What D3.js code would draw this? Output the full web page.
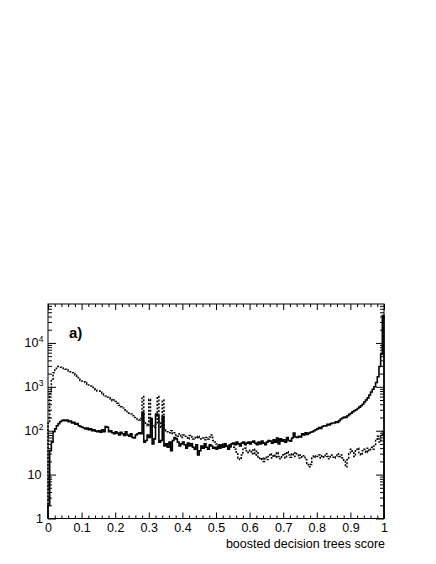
<!DOCTYPE html>
<html>
<head>
<meta charset="utf-8">
<script src="https://cdn.jsdelivr.net/npm/d3@7"></script>
<style>
  body { margin: 0; background: #fff; }
  text { font-family: "Liberation Sans", Arial, sans-serif; fill: #000; }
</style>
</head>
<body>
<svg id="chart" width="436" height="564"></svg>
<script>
// 200 bins on [0, 1]
const nBins = 200
const signalCounts = [
  2, 35, 55, 95, 110, 130, 145, 160, 170, 175,
  170, 175, 160, 165, 150, 155, 140, 145, 130, 125,
  120, 115, 110, 115, 105, 110, 100, 105, 98, 95,
  100, 92, 105, 95, 125, 120, 95, 100, 90, 85,
  95, 88, 80, 92, 85, 78, 95, 80, 75, 85,
  70, 68, 80, 85, 90, 85, 260, 55, 60, 80,
  70, 190, 50, 65, 240, 220, 55, 60, 210, 45,
  50, 42, 55, 35, 60, 70, 65, 55, 45, 50,
  55, 48, 40, 52, 45, 50, 42, 38, 48, 28,
  35, 45, 40, 50, 42, 38, 48, 45, 40, 42,
  38, 45, 40, 48, 42, 50, 45, 38, 45, 50,
  52, 48, 55, 50, 45, 52, 55, 48, 52, 55,
  50, 55, 58, 52, 48, 55, 50, 58, 52, 48,
  55, 60, 58, 52, 62, 55, 68, 50, 65, 58,
  62, 55, 70, 60, 58, 68, 88, 72, 70, 75,
  72, 85, 80, 90, 82, 88, 92, 95, 100, 105,
  110, 118, 112, 125, 130, 128, 140, 135, 145, 150,
  150, 160, 155, 170, 185, 195, 205, 200, 220, 235,
  250, 270, 285, 300, 320, 345, 370, 400, 450, 500,
  560, 650, 760, 880, 1000, 1250, 1700, 2900, 5500, 42000
]
const backgroundCounts = [
  150, 700, 1400, 2100, 2600, 2900, 2900, 2800, 2700, 2600,
  2500, 2400, 2300, 2200, 2100, 2000, 1850, 1750, 1600, 1400,
  1350, 1300, 1250, 1150, 1100, 1050, 980, 900, 850, 800,
  800, 760, 700, 650, 620, 580, 560, 520, 480, 500,
  460, 420, 380, 350, 330, 300, 290, 270, 250, 240,
  220, 200, 190, 180, 175, 190, 600, 160, 140, 130,
  520, 150, 130, 120, 140, 600, 150, 120, 500, 110,
  100, 95, 90, 100, 85, 90, 80, 75, 85, 70,
  80, 75, 70, 65, 78, 72, 65, 70, 68, 75,
  70, 65, 68, 62, 70, 65, 72, 80, 60, 55,
  50, 48, 45, 50, 44, 46, 42, 48, 45, 42,
  42, 38, 30, 24, 22, 28, 38, 40, 35, 32,
  36, 30, 38, 28, 34, 25, 22, 24, 20, 25,
  22, 26, 30, 24, 28, 25, 32, 26, 23, 28,
  30, 24, 33, 28, 25, 30, 26, 32, 28, 24,
  28, 25, 27, 22, 18, 15, 17, 24, 27, 25,
  26, 28, 24, 27, 25, 30, 26, 23, 28, 25,
  24, 27, 30, 26, 28, 24, 20, 15, 22, 30,
  38, 32, 26, 35, 40, 30, 28, 35, 38, 32,
  40, 35, 42, 38, 45, 60, 75, 55, 80, 95
]
const xTickValues = d3.range(0, 11).map(i => i / 10)
const yDecades = [1, 10, 100, 1000, 10000]
const yLabelExp = ['', '', '2', '3', '4']
const xTitle = 'boosted decision trees score'
const panelLabel = 'a)'

const svg = d3.select('#chart')
const frameL = 48, frameR = 384, frameT = 304, frameB = 518.5

const x = d3.scaleLinear().domain([0, 1]).range([frameL, frameR])
const y = d3.scaleLog().domain([1, 77000]).range([frameB, frameT])

svg.append('rect').attr('width', 436).attr('height', 564).attr('fill', '#fff')

// step outline, ROOT "hist" style: starts and ends on the frame floor
const stepPoints = counts => {
  const pts = [[x(0), frameB]]
  counts.forEach((v, i) => {
    pts.push([x(i / nBins), y(v)], [x((i + 1) / nBins), y(v)])
  })
  pts.push([x(1), frameB])
  return pts
}
const line = d3.line()

svg.append('path')
  .attr('d', line(stepPoints(backgroundCounts)))
  .attr('fill', 'none').attr('stroke', '#000')
  .attr('stroke-width', 1.5).attr('stroke-dasharray', '2,1.5')

svg.append('path')
  .attr('d', line(stepPoints(signalCounts)))
  .attr('fill', 'none').attr('stroke', '#000')
  .attr('stroke-width', 1.6)

// x axes (bottom with labels, top ticks only)
const xMinor = d3.range(0, 51).map(i => i / 50).filter((d, i) => i % 5)
const bottomAxis = svg.append('g').attr('transform', `translate(0,${frameB})`)
bottomAxis.call(d3.axisBottom(x).tickValues(xTickValues).tickSize(-6).tickSizeOuter(0)
  .tickPadding(5).tickFormat(d => d3.format('~g')(d)))
bottomAxis.append('g').call(d3.axisBottom(x).tickValues(xMinor).tickSize(-3).tickSizeOuter(0).tickFormat(''))

const topAxis = svg.append('g').attr('transform', `translate(0,${frameT})`)
topAxis.call(d3.axisTop(x).tickValues(xTickValues).tickSize(-6).tickSizeOuter(0).tickFormat(''))
topAxis.append('g').call(d3.axisTop(x).tickValues(xMinor).tickSize(-3).tickSizeOuter(0).tickFormat(''))

// y axes, log
const yMinor = []
yDecades.forEach(p => d3.range(2, 10).forEach(k => { if (p * k < 77000) yMinor.push(p * k) }))

const leftAxis = svg.append('g').attr('transform', `translate(${frameL},0)`)
leftAxis.call(d3.axisLeft(y).tickValues(yDecades).tickSize(-8).tickSizeOuter(0).tickFormat(''))
leftAxis.append('g').call(d3.axisLeft(y).tickValues(yMinor).tickSize(-4).tickSizeOuter(0).tickFormat(''))

const rightAxis = svg.append('g').attr('transform', `translate(${frameR},0)`)
rightAxis.call(d3.axisRight(y).tickValues(yDecades).tickSize(-8).tickSizeOuter(0).tickFormat(''))
rightAxis.append('g').call(d3.axisRight(y).tickValues(yMinor).tickSize(-4).tickSizeOuter(0).tickFormat(''))

svg.selectAll('.domain').remove()
svg.selectAll('.tick line').attr('stroke', '#000').attr('stroke-width', 1)
bottomAxis.selectAll('text').attr('font-size', 12.5).attr('font-family', '"Liberation Sans", Arial, sans-serif')

// y labels with superscripts
yDecades.forEach((d, i) => {
  const t = svg.append('text')
    .attr('x', d === 1 ? 43 : 41.5).attr('y', y(d) + 4.5)
    .attr('text-anchor', 'end').attr('font-size', 12.5)
  if (yLabelExp[i]) {
    t.attr('x', 38.5).text('10')
    svg.append('text').attr('x', 38.8).attr('y', y(d) - 0.5)
      .attr('font-size', 8.5).text(yLabelExp[i])
  } else {
    t.text(d === 1 ? '1' : '10')
  }
})

// frame
svg.append('rect')
  .attr('x', frameL).attr('y', frameT)
  .attr('width', frameR - frameL).attr('height', frameB - frameT)
  .attr('fill', 'none').attr('stroke', '#000').attr('stroke-width', 1)

svg.append('text')
  .attr('x', frameR + 1).attr('y', 547.5)
  .attr('text-anchor', 'end').attr('font-size', 12.5)
  .text(xTitle)

svg.append('text')
  .attr('x', 69).attr('y', 338)
  .attr('font-size', 15).attr('font-weight', 'bold')
  .text(panelLabel)
</script>
</body>
</html>
